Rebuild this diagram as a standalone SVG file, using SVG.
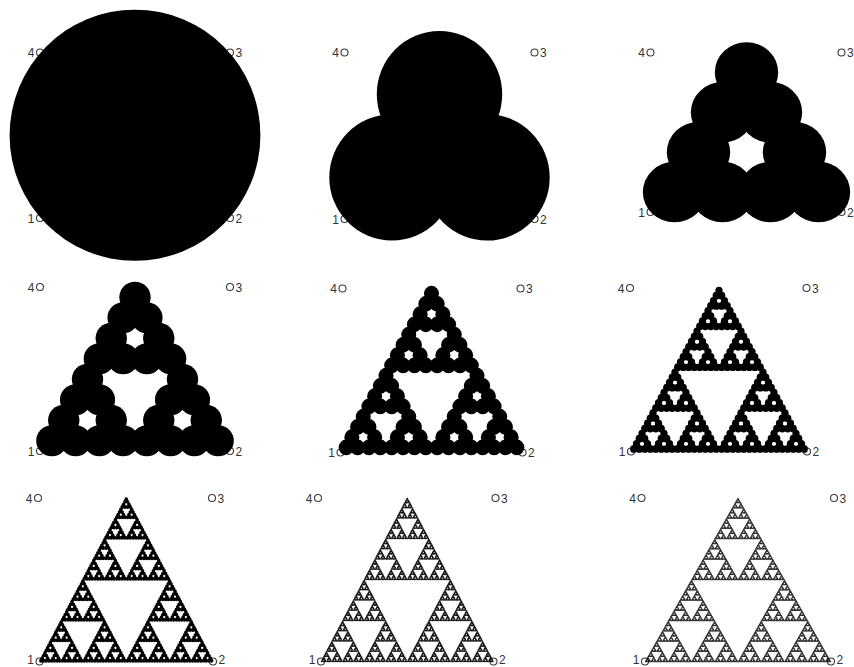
<svg xmlns="http://www.w3.org/2000/svg" width="854" height="667" viewBox="0 0 854 667">
<style>
.lbl{font-family:"Liberation Sans",Arial,sans-serif;font-size:12px;fill:#333}
.e{text-anchor:end}
.pt{fill:none;stroke:#3a3a3a;stroke-width:1.1}
.fr{fill:#000}
.fr8{fill:#111}
.fr9{fill:#000;stroke:#000;stroke-width:0.12px}
</style>
<defs>
<circle id="L0" cx="0.5" cy="0.435" r="0.66" vector-effect="non-scaling-stroke"/>
<g id="L1"><use href="#L0" transform="matrix(.5 0 0 .5 .25 0)"/><use href="#L0" transform="matrix(.5 0 0 .5 0 .435)"/><use href="#L0" transform="matrix(.5 0 0 .5 .5 .435)"/></g>
<g id="L2"><use href="#L1" transform="matrix(.5 0 0 .5 .25 0)"/><use href="#L1" transform="matrix(.5 0 0 .5 0 .435)"/><use href="#L1" transform="matrix(.5 0 0 .5 .5 .435)"/></g>
<g id="L3"><use href="#L2" transform="matrix(.5 0 0 .5 .25 0)"/><use href="#L2" transform="matrix(.5 0 0 .5 0 .435)"/><use href="#L2" transform="matrix(.5 0 0 .5 .5 .435)"/></g>
<g id="L4"><use href="#L3" transform="matrix(.5 0 0 .5 .25 0)"/><use href="#L3" transform="matrix(.5 0 0 .5 0 .435)"/><use href="#L3" transform="matrix(.5 0 0 .5 .5 .435)"/></g>
<g id="L5"><use href="#L4" transform="matrix(.5 0 0 .5 .25 0)"/><use href="#L4" transform="matrix(.5 0 0 .5 0 .435)"/><use href="#L4" transform="matrix(.5 0 0 .5 .5 .435)"/></g>
<g id="L6"><use href="#L5" transform="matrix(.5 0 0 .5 .25 0)"/><use href="#L5" transform="matrix(.5 0 0 .5 0 .435)"/><use href="#L5" transform="matrix(.5 0 0 .5 .5 .435)"/></g>
<g id="L7"><use href="#L6" transform="matrix(.5 0 0 .5 .25 0)"/><use href="#L6" transform="matrix(.5 0 0 .5 0 .435)"/><use href="#L6" transform="matrix(.5 0 0 .5 .5 .435)"/></g>
<g id="L8"><use href="#L7" transform="matrix(.5 0 0 .5 .25 0)"/><use href="#L7" transform="matrix(.5 0 0 .5 0 .435)"/><use href="#L7" transform="matrix(.5 0 0 .5 .5 .435)"/></g>
</defs>
<rect width="854" height="667" fill="#fff"/>

<g id="panel1">
<text class="lbl e" x="34.5" y="57">4</text><circle class="pt" cx="40" cy="52.5" r="3.5"/>
<text class="lbl" x="235.5" y="57">3</text><circle class="pt" cx="230" cy="52.5" r="3.5"/>
<text class="lbl e" x="34.5" y="222.5">1</text><circle class="pt" cx="40" cy="218" r="3.5"/>
<text class="lbl" x="235.5" y="222.5">2</text><circle class="pt" cx="230" cy="218" r="3.5"/>
<use class="fr" href="#L0" transform="translate(40 52.5) scale(190 190.23)"/>
</g>

<g id="panel2">
<text class="lbl e" x="339" y="57">4</text><circle class="pt" cx="344.5" cy="52.5" r="3.5"/>
<text class="lbl" x="540" y="57">3</text><circle class="pt" cx="534.5" cy="52.5" r="3.5"/>
<text class="lbl e" x="339" y="223.5">1</text><circle class="pt" cx="344.5" cy="219" r="3.5"/>
<text class="lbl" x="540" y="223.5">2</text><circle class="pt" cx="534.5" cy="219" r="3.5"/>
<use class="fr" href="#L1" transform="translate(344.5 52.5) scale(190 191.38)"/>
</g>

<g id="panel3">
<text class="lbl e" x="645" y="57">4</text><circle class="pt" cx="650.5" cy="52.5" r="3.5"/>
<text class="lbl" x="847" y="57">3</text><circle class="pt" cx="841.5" cy="52.5" r="3.5"/>
<text class="lbl e" x="645" y="216.5">1</text><circle class="pt" cx="650.5" cy="212" r="3.5"/>
<text class="lbl" x="847" y="216.5">2</text><circle class="pt" cx="841.5" cy="212" r="3.5"/>
<use class="fr" href="#L2" transform="translate(650.5 52.5) scale(192 183.33)"/>
</g>

<g id="panel4">
<text class="lbl e" x="34.5" y="291.5">4</text><circle class="pt" cx="40" cy="287" r="3.5"/>
<text class="lbl" x="235.5" y="291.5">3</text><circle class="pt" cx="230" cy="287" r="3.5"/>
<text class="lbl e" x="34.5" y="455.5">1</text><circle class="pt" cx="40" cy="451" r="3.5"/>
<text class="lbl" x="235.5" y="455.5">2</text><circle class="pt" cx="230" cy="451" r="3.5"/>
<use class="fr" href="#L3" transform="translate(40 287) scale(190 188.51)"/>
</g>

<g id="panel5">
<text class="lbl e" x="337" y="293">4</text><circle class="pt" cx="342.5" cy="288.5" r="3.5"/>
<text class="lbl" x="526" y="293">3</text><circle class="pt" cx="520.5" cy="288.5" r="3.5"/>
<text class="lbl e" x="335" y="457">1</text><circle class="pt" cx="340.5" cy="452.5" r="3.5"/>
<text class="lbl" x="528" y="457">2</text><circle class="pt" cx="522.5" cy="452.5" r="3.5"/>
<use class="fr" href="#L4" transform="translate(340.5 288.5) scale(182 188.51)"/>
</g>

<g id="panel6">
<text class="lbl e" x="624.5" y="292.5">4</text><circle class="pt" cx="630" cy="288" r="3.5"/>
<text class="lbl" x="812" y="292.5">3</text><circle class="pt" cx="806.5" cy="288" r="3.5"/>
<text class="lbl e" x="625.5" y="456">1</text><circle class="pt" cx="631" cy="451.5" r="3.5"/>
<text class="lbl" x="812.5" y="456">2</text><circle class="pt" cx="807" cy="451.5" r="3.5"/>
<use class="fr" href="#L5" transform="translate(631 288) scale(176 187.93)"/>
</g>

<g id="panel7">
<text class="lbl e" x="32.5" y="502.5">4</text><circle class="pt" cx="38" cy="498" r="3.5"/>
<text class="lbl" x="217.5" y="502.5">3</text><circle class="pt" cx="212" cy="498" r="3.5"/>
<text class="lbl e" x="34" y="664">1</text><circle class="pt" cx="39.5" cy="661.5" r="3.5"/>
<text class="lbl" x="218.5" y="664">2</text><circle class="pt" cx="213" cy="661.5" r="3.5"/>
<use class="fr" href="#L6" transform="translate(39.5 498) scale(173.5 188.51)"/>
</g>

<g id="panel8">
<text class="lbl e" x="312.5" y="502.5">4</text><circle class="pt" cx="318" cy="498" r="3.5"/>
<text class="lbl" x="501" y="502.5">3</text><circle class="pt" cx="495.5" cy="498" r="3.5"/>
<text class="lbl e" x="315.5" y="664">1</text><circle class="pt" cx="321" cy="661.5" r="3.5"/>
<text class="lbl" x="499" y="664">2</text><circle class="pt" cx="493.5" cy="661.5" r="3.5"/>
<use class="fr8" href="#L7" transform="translate(321 498) scale(172.5 188.51)"/>
</g>

<g id="panel9">
<text class="lbl e" x="636" y="502.5">4</text><circle class="pt" cx="641.5" cy="498" r="3.5"/>
<text class="lbl" x="839.5" y="502.5">3</text><circle class="pt" cx="834" cy="498" r="3.5"/>
<text class="lbl e" x="639.5" y="664">1</text><circle class="pt" cx="645" cy="661.5" r="3.5"/>
<text class="lbl" x="836.5" y="664">2</text><circle class="pt" cx="831" cy="661.5" r="3.5"/>
<use class="fr9" href="#L8" transform="translate(645 498) scale(186 188.51)"/>
</g>
</svg>
